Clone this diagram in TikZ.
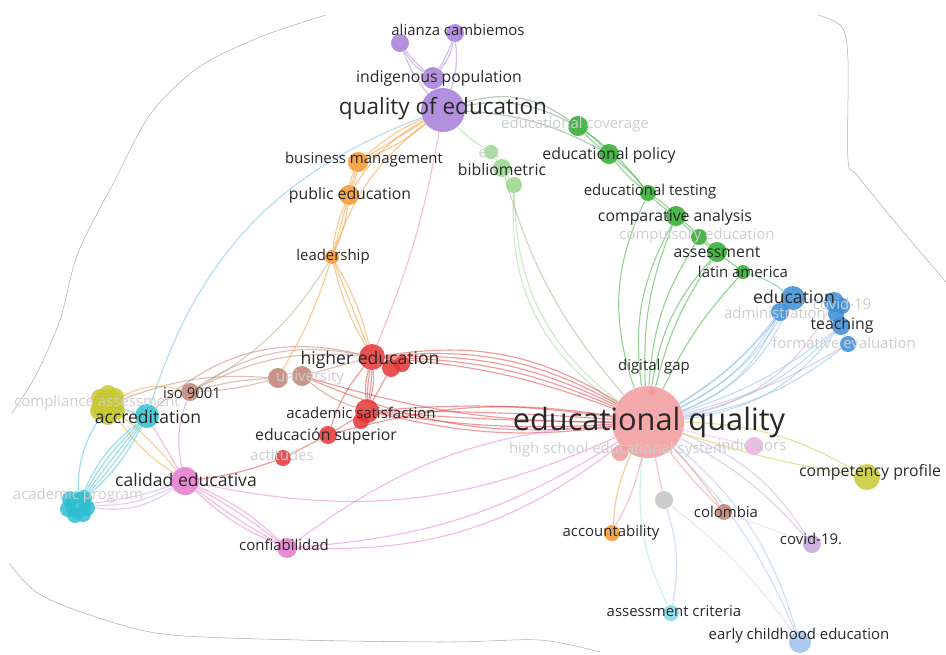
\documentclass[tikz,border=0pt]{standalone}
\usepackage{fontspec}
\setmainfont{Open Sans}
\definecolor{vred}{RGB}{228, 52, 52}
\definecolor{vsalmon}{RGB}{242,155,155}
\definecolor{vgreen}{RGB}{44, 170, 44}
\definecolor{vlgreen}{RGB}{150,215,140}
\definecolor{vblue}{RGB}{55, 140,215}
\definecolor{vyellow}{RGB}{200,200, 50}
\definecolor{vpurple}{RGB}{165,125,215}
\definecolor{vcyan}{RGB}{45, 190,210}
\definecolor{vorange}{RGB}{245,150, 40}
\definecolor{vbrown}{RGB}{190,130,115}
\definecolor{vmagenta}{RGB}{228,120,205}
\definecolor{vgrey}{RGB}{195,195,195}
\definecolor{vlav}{RGB}{195,165,215}
\definecolor{vsky}{RGB}{160,190,235}
\definecolor{vtext}{RGB}{40, 40, 40}
\definecolor{vfaint}{RGB}{205,205,205}
\definecolor{vline}{RGB}{140,140,140}
\definecolor{vrim}{RGB}{175,175,175}
\pgfdeclarelayer{edges}
\pgfsetlayers{edges,main}

\begin{document}
\begin{tikzpicture}[
      x=0.02cm, y=-0.02cm,
      kw/.style={circle, inner sep=0pt, minimum size=#1*0.4mm, fill opacity=.85},
      tx/.style={text=vtext, inner sep=0pt, font=\fontsize{8.5}{9}\selectfont},
      txm/.style={tx, font=\fontsize{9}{10}\selectfont},
      txl/.style={tx, font=\fontsize{10}{11}\selectfont},
      txq/.style={tx, font=\fontsize{12.8}{14}\selectfont},
      txh/.style={tx, font=\fontsize{17.5}{19}\selectfont},
      faint/.style={text=vfaint},
      ln/.style={draw=#1, draw opacity=.5, line width=.65pt},
      rim/.style={draw=vrim, line width=.3pt}
    ]
    \useasboundingbox (0,0) rectangle (946,654);

    % outline of the map
    \draw[rim] plot[smooth] coordinates {(326,15) (260,37) (199,67) (151,113)
      (115,180) (78,253) (60,320) (36,375) (12,413)};
    \draw[rim] plot[smooth] coordinates {(9,563) (36,592) (84,613) (163,634)
      (300,640) (450,642) (540,640) (600,652)};
    \draw[rim] plot[smooth] coordinates {(818,15) (842,27) (848,60) (848,160)
      (857,175) (900,228) (946,282)};

    % purple
    \node[kw=22, fill=vpurple] (qoe)      at (443,110) {};
    \node[kw=11, fill=vpurple] (indig)    at (433,78)  {};
    \node[kw=9,  fill=vpurple] (alianzaA) at (400,43)  {};
    \node[kw=9,  fill=vpurple] (alianzaB) at (455,33)  {};
    % green
    \node[kw=10, fill=vgreen]  (cover)   at (578,126) {};
    \node[kw=10, fill=vgreen]  (policy)  at (609,154) {};
    \node[kw=7,  fill=vlgreen] (etc)     at (491,152) {};
    \node[kw=9,  fill=vlgreen] (biblio)  at (502,168) {};
    \node[kw=8,  fill=vlgreen] (biblioB) at (514,185) {};
    \node[kw=8,  fill=vgreen]  (testing) at (648,193) {};
    \node[kw=10, fill=vgreen]  (compar)  at (676,216) {};
    \node[kw=8,  fill=vgreen]  (compul)  at (699,237) {};
    \node[kw=10, fill=vgreen]  (assess)  at (717,252) {};
    \node[kw=7,  fill=vgreen]  (latam)   at (743,272) {};
    % blue
    \node[kw=12, fill=vblue] (educ)   at (793,298) {};
    \node[kw=9,  fill=vblue] (admin)  at (780,312) {};
    \node[kw=10, fill=vblue] (covidB) at (834,302) {};
    \node[kw=8,  fill=vblue] (covidC) at (842,306) {};
    \node[kw=8,  fill=vblue] (covidD) at (836,314) {};
    \node[kw=9,  fill=vblue] (teach)  at (841,326) {};
    \node[kw=8,  fill=vblue] (formev) at (848,344) {};
    % red
    \node[kw=36, fill=vsalmon] (eduq)    at (648,422) {};
    \node[kw=8,  fill=vsalmon] (hsys)    at (620,453) {};
    \node[kw=4,  fill=vsalmon] (digital) at (652,392) {};
    \node[kw=13, fill=vred] (hied)  at (372,357) {};
    \node[kw=9,  fill=vred] (hiedB) at (391,368) {};
    \node[kw=8,  fill=vred] (hiedC) at (402,364) {};
    \node[kw=12, fill=vred] (acsat)  at (367,411) {};
    \node[kw=8,  fill=vred] (acsatB) at (361,421) {};
    \node[kw=9,  fill=vred] (esup)   at (328,435) {};
    \node[kw=8,  fill=vred] (actit)  at (283,458) {};
    % brown
    \node[kw=10, fill=vbrown] (univA) at (278,378) {};
    \node[kw=10, fill=vbrown] (univ)  at (302,376) {};
    \node[kw=9,  fill=vbrown] (iso)   at (190,392) {};
    \node[kw=8,  fill=vbrown] (colom) at (724,512) {};
    % yellow
    \node[kw=16, fill=vyellow] (compl) at (108,405) {};
    \foreach \dx/\dy [count=\i] in {-8/-7, 7/-8, -9/6, 8/6, 0/-11, 0/11}
      \node[kw=9, fill=vyellow] (compl\i) at (108+\dx,405+\dy) {};
    \node[kw=13, fill=vyellow] (comprof) at (867,477) {};
    % cyan
    \node[kw=12, fill=vcyan] (accr) at (147,416) {};
    \node[kw=13, fill=vcyan] (acprog) at (78,505) {};
    \foreach \dx/\dy [count=\i] in {-8/-6, 6/-7, -10/4, 9/3, -3/10, 5/9}
      \node[kw=8, fill=vcyan] (acprog\i) at (78+\dx,505+\dy) {};
    \node[kw=8, fill=vcyan!60] (asscrit) at (671,613) {};
    % pink
    \node[kw=14, fill=vmagenta]    (calid) at (185,481) {};
    \node[kw=10, fill=vmagenta]    (confi) at (287,548) {};
    \node[kw=9,  fill=vmagenta!60] (indic) at (754,446) {};
    % orange
    \node[kw=10, fill=vorange] (busman) at (358,162) {};
    \node[kw=10, fill=vorange] (pubed)  at (349,195) {};
    \node[kw=7,  fill=vorange] (lead)   at (332,257) {};
    \node[kw=8,  fill=vorange] (accoun) at (612,533) {};
    % others
    \node[kw=9,  fill=vgrey] (grey)  at (664,500) {};
    \node[kw=9,  fill=vlav]  (covid) at (812,544) {};
    \node[kw=11, fill=vsky]  (early) at (800,642) {};

    % labels
    \node[txh] (eduq-t) at (649,422) {educational quality};
    \node[txq] (qoe-t)  at (443,109) {quality of education};
    \node[txm] (indig-t)   at (439,78)  {indigenous population};
    \node[tx]  (alianza-t) at (458,30)  {alianza cambiemos};
    \node[tx, faint] (cover-t) at (575,125) {educational coverage};
    \node[txm] (policy-t)  at (609,155) {educational policy};
    \node[tx, faint] (etc-t) at (489,153) {etc};
    \node[txm] (biblio-t)  at (502,170) {bibliometric};
    \node[tx]  (testing-t) at (650,192) {educational testing};
    \node[txm] (compar-t)  at (675,217) {comparative analysis};
    \node[tx, faint] (compul-t) at (697,236) {compulsory education};
    \node[txm] (assess-t)  at (717,252) {assessment};
    \node[tx]  (latam-t)   at (743,272) {latin america};
    \node[txl] (educ-t)    at (794,297) {education};
    \node[tx, faint] (admin-t) at (775,313) {administration};
    \node[tx, faint] (covidB-t) at (842,304) {covid-19};
    \node[txm] (teach-t)   at (842,325) {teaching};
    \node[tx, faint] (formev-t) at (844,343) {formative evaluation};
    \node[tx]  (digital-t) at (654,367) {digital gap};
    \node[tx, faint] (hsys-t) at (618,450) {high school educational system};
    \node[txl] (hied-t)    at (370,360) {higher education};
    \node[tx]  (acsat-t)   at (361,413) {academic satisfaction};
    \node[txm] (esup-t)    at (326,436) {educación superior};
    \node[tx, faint] (actit-t) at (282,455) {actitudes};
    \node[tx, faint] (univ-t)  at (310,378) {university};
    \node[tx]  (iso-t)     at (192,393) {iso 9001};
    \node[tx]  (colom-t)   at (726,512) {colombia};
    \node[tx, faint] (compl-t) at (97,403) {compliance assessment};
    \node[txm] (comprof-t) at (870,472) {competency profile};
    \node[txl] (accr-t)    at (148,417) {accreditation};
    \node[tx, faint] (acprog-t) at (78,496) {academic program};
    \node[tx]  (asscrit-t) at (674,611) {assessment criteria};
    \node[txl] (calid-t)   at (186,480) {calidad educativa};
    \node[tx]  (confi-t)   at (284,545) {confiabilidad};
    \node[tx, faint] (indic-t) at (752,445) {indicators};
    \node[tx]  (busman-t)  at (364,160) {business management};
    \node[txm] (pubed-t)   at (350,195) {public education};
    \node[tx]  (lead-t)    at (333,257) {leadership};
    \node[tx]  (accoun-t)  at (611,533) {accountability};
    \node[tx]  (covid-t)   at (811,539) {covid-19.};
    \node[tx]  (early-t)   at (799,636) {early childhood education};

    \begin{pgfonlayer}{edges}
    % purple
    \draw[ln=vpurple] (qoe) -- (indig);
    \foreach \b in {6,14} {
      \draw[ln=vpurple] (indig) to[bend left=\b] (alianzaA);
      \draw[ln=vpurple] (indig) to[bend right=\b] (alianzaB);
    }
    \draw[ln=vpurple] (qoe) to[bend right=12] (alianzaB);
    \draw[ln=vpurple] (qoe) to[bend left=10] (alianzaA);
    % green
    \foreach \b in {18,26} \draw[ln=vline!70!vgreen] (qoe) to[bend left=\b] (cover);
    \draw[ln=vline!60!vgreen] (qoe) to[bend left=12] (policy);
    \draw[ln=vlgreen] (qoe) to[bend right=8] (etc);
    \foreach \b in {-6,6} {
      \draw[ln=vgreen] (cover) to[bend left=\b] (policy);
      \draw[ln=vgreen] (policy) to[bend left=\b] (testing);
      \draw[ln=vgreen] (testing) to[bend left=\b] (compar);
      \draw[ln=vgreen] (compar) to[bend left=\b] (compul);
      \draw[ln=vgreen] (compul) to[bend left=\b] (assess);
    }
    \draw[ln=vgreen] (cover) to[bend left=8] (testing);
    \draw[ln=vgreen] (assess) -- (latam);
    \draw[ln=vcyan!60!vgreen] (latam) to[bend left=10] (educ);
    \draw[ln=vlgreen] (etc) -- (biblio);
    \draw[ln=vlgreen] (biblio) -- (biblioB);
    \draw[ln=vlgreen] (biblioB) to[bend right=30] (eduq);
    \draw[ln=vlgreen] (biblioB) to[bend right=26] (eduq);
    \draw[ln=vbrown!60!vlgreen] (biblio) to[bend right=12] (eduq);
    \draw[ln=vgreen] (eduq) to[bend left=22] (testing);
    \draw[ln=vgreen] (eduq) to[bend left=18] (compar);
    \draw[ln=vgreen] (eduq) to[bend left=12] (compar);
    \draw[ln=vgreen] (eduq) to[bend left=14] (compul);
    \draw[ln=vgreen] (eduq) to[bend left=10] (assess);
    \draw[ln=vgreen] (eduq) to[bend left=16] (assess);
    \draw[ln=vgreen] (eduq) to[bend left=8] (latam);
    % blue
    \foreach \b in {10,16,22} {
      \draw[ln=vblue!60] (eduq) to[bend right=\b] (educ);
      \draw[ln=vblue!60] (eduq) to[bend right=\b] (admin);
      \draw[ln=vblue!60] (eduq) to[bend right=\b] (teach);
    }
    \draw[ln=vblue!60] (eduq) to[bend right=14] (formev);
    \draw[ln=vlav] (eduq) to[bend right=24] (covidB);
    \draw[ln=vlav] (eduq) to[bend right=8] (formev);
    \draw[ln=vblue!60] (educ) -- (covidB);
    \draw[ln=vblue!60] (covidB) -- (teach);
    \draw[ln=vblue!60] (teach) -- (formev);
    % from educational quality to the right and below
    \draw[ln=vyellow] (eduq) to[bend left=14] (comprof);
    \draw[ln=vyellow] (eduq) to[bend right=4] (comprof);
    \draw[ln=vmagenta!60] (eduq) -- (indic);
    \draw[ln=vlav] (eduq) to[bend left=18] (covid);
    \draw[ln=vlav] (eduq) to[bend left=10] (covid);
    \draw[ln=vsky] (eduq) to[bend left=16] (early);
    \draw[ln=vsky] (eduq) to[bend left=10] (early);
    \draw[ln=vmagenta!50] (grey) to[bend left=8] (early);
    \draw[ln=vcyan!50] (eduq) to[bend right=16] (asscrit);
    \draw[ln=vsky] (grey) to[bend left=14] (asscrit);
    \draw[ln=vorange] (eduq) to[bend right=10] (accoun);
    \draw[ln=vred!60] (eduq) to[bend left=8] (accoun);
    \draw[ln=vred!60] (eduq) to[bend left=4] (colom);
    \draw[ln=vred!60] (eduq) to[bend right=4] (colom);
    \draw[ln=vmagenta!40] (colom) -- (covid);
    \draw[ln=vred!60] (eduq) -- (grey);
    % red
    \foreach \b in {8,11,14,17,20} \draw[ln=vred] (hied) to[bend left=\b] (eduq);
    \foreach \b in {-10,-6,-2,2,6} \draw[ln=vred] (acsat) to[bend left=\b] (eduq);
    \draw[ln=vred] (esup) to[bend left=12] (eduq);
    \draw[ln=vred] (univ) to[bend right=8] (eduq);
    \draw[ln=vred] (univ) to[bend right=14] (eduq);
    \foreach \b in {-10,-4,4,10} \draw[ln=vred] (hied) to[bend left=\b] (acsat);
    \draw[ln=vred] (hiedB) -- (acsat);
    \draw[ln=vred] (acsat) -- (esup);
    \draw[ln=vred] (esup) -- (actit);
    \draw[ln=vred] (actit) to[bend left=6] (calid);
    \draw[ln=vred] (hied) to[bend right=10] (esup);
    \draw[ln=vbrown] (hied) -- (univ);
    \draw[ln=vbrown] (univA) -- (univ);
    \foreach \b in {16,22} \draw[ln=vbrown] (iso) to[bend left=\b] (hied);
    \draw[ln=vbrown] (iso) to[bend left=6] (univA);
    \draw[ln=vbrown] (iso) to[bend right=6] (univA);
    \draw[ln=vbrown!70!vred] (accr) to[bend left=28] (hied);
    \draw[ln=vbrown] (compl) to[bend left=12] (univA);
    \draw[ln=vorange!70!vyellow] (compl) to[bend left=22] (iso);
    \draw[ln=vbrown!70!vred] (univ) to[bend right=10] (acsat);
    % orange
    \foreach \b in {-8,0,8} {
      \draw[ln=vorange] (qoe) to[bend right=\b] (busman);
      \draw[ln=vorange] (busman) to[bend left=\b] (pubed);
      \draw[ln=vorange] (pubed) to[bend left=\b] (lead);
      \draw[ln=vorange] (lead) to[bend left=\b] (hied);
    }
    \draw[ln=vorange] (qoe) to[bend right=14] (pubed);
    \draw[ln=vorange] (qoe) to[bend right=16] (lead);
    \draw[ln=vbrown!50!vlgreen] (lead) to[bend left=14] (iso);
    \draw[ln=vorange] (lead) to[bend left=6] (univA);
    \draw[ln=vred!60] (qoe) to[bend left=6] (hied);
    % blue-violet and cyan
    \draw[ln=vsky!50!vcyan] (qoe) to[bend right=26] (accr);
    \foreach \b in {-14,-8,-2,4,10} \draw[ln=vcyan] (accr) to[bend left=\b] (acprog);
    \foreach \b in {6,14,22} \draw[ln=vlav] (calid) to[bend left=\b] (acprog);
    \draw[ln=vcyan] (compl) to[bend right=16] (acprog);
    \draw[ln=vcyan] (accr) -- (compl);
    \draw[ln=vmagenta] (accr) -- (calid);
    \draw[ln=vorange!60!vyellow] (compl) to[bend right=10] (calid);
    \draw[ln=vorange!60!vyellow] (compl) to[bend left=6] (calid);
    % pink
    \foreach \b in {-10,-4,4,10} \draw[ln=vmagenta] (calid) to[bend left=\b] (confi);
    \foreach \b in {14,20} \draw[ln=vmagenta] (confi) to[bend right=\b] (eduq);
    \draw[ln=vmagenta] (confi) to[bend left=16] (eduq);
    \draw[ln=vmagenta] (calid) to[bend right=18] (eduq);
    \draw[ln=vmagenta] (calid) to[bend left=16] (iso);
    \end{pgfonlayer}
  \end{tikzpicture}
\end{document}
